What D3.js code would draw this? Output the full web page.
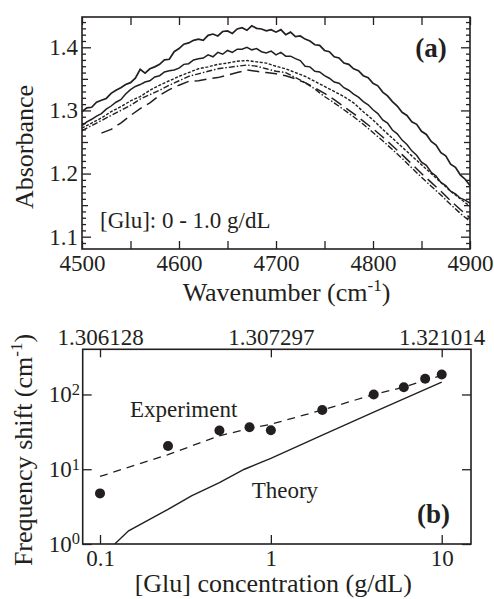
<!DOCTYPE html>
<html>
<head>
<meta charset="utf-8">
<script src="https://cdn.jsdelivr.net/npm/d3@7"></script>
<style>
body { margin: 0; background: #fff; }
svg { display: block; font-family: "Liberation Serif", "Times New Roman", serif; }
.tickLabel text { font-family: "Liberation Serif", "Times New Roman", serif; font-size: 23px; fill: #231f20; }
.axisLabel { font-size: 26px; fill: #231f20; }
.note { font-size: 23px; fill: #231f20; }
.panelTag { font-size: 27px; font-weight: bold; fill: #231f20; }
</style>
</head>
<body>
<svg id="figSVG" width="494" height="599"></svg>
<script>
//////////////////// DATA ////////////////////
// panel (a): absorbance spectra, [Glu] 0 - 1.0 g/dL
const waveFine = d3.range(4500, 4901, 5);     // sampling grid of the two solid spectra
const waveCoarse = d3.range(4500, 4901, 10);  // sampling grid of the broken spectra

const absA = [
    1.298, 1.304, 1.305, 1.313, 1.316, 1.319, 1.327, 1.332, 1.336, 1.341,
    1.344, 1.351, 1.365, 1.359, 1.366, 1.369, 1.373, 1.380, 1.381, 1.393,
    1.398, 1.405, 1.407, 1.411, 1.413, 1.411, 1.419, 1.421, 1.418, 1.425,
    1.426, 1.422, 1.429, 1.431, 1.427, 1.434, 1.430, 1.429, 1.426, 1.428,
    1.424, 1.428, 1.420, 1.424, 1.417, 1.418, 1.413, 1.410, 1.404, 1.403,
    1.395, 1.393, 1.385, 1.383, 1.375, 1.373, 1.366, 1.363, 1.355, 1.352,
    1.343, 1.339, 1.329, 1.323, 1.314, 1.307, 1.297, 1.292, 1.282, 1.278,
    1.267, 1.262, 1.251, 1.245, 1.233, 1.228, 1.215, 1.210, 1.198, 1.191,
    1.181
];
const absB = [
    1.276, 1.282, 1.286, 1.291, 1.295, 1.302, 1.307, 1.313, 1.317, 1.326,
    1.333, 1.338, 1.341, 1.345, 1.347, 1.353, 1.355, 1.361, 1.363, 1.364,
    1.367, 1.373, 1.374, 1.380, 1.382, 1.383, 1.388, 1.385, 1.392, 1.389,
    1.395, 1.392, 1.397, 1.397, 1.400, 1.396, 1.398, 1.393, 1.391, 1.394,
    1.388, 1.392, 1.386, 1.386, 1.382, 1.379, 1.370, 1.369, 1.362, 1.361,
    1.355, 1.351, 1.345, 1.343, 1.336, 1.332, 1.326, 1.321, 1.314, 1.309,
    1.301, 1.295, 1.285, 1.280, 1.269, 1.263, 1.253, 1.246, 1.236, 1.229,
    1.218, 1.213, 1.202, 1.196, 1.186, 1.181, 1.172, 1.168, 1.161, 1.158,
    1.153
];
const absC = [
    1.272, 1.280, 1.288, 1.298, 1.306, 1.315, 1.322, 1.332, 1.340, 1.347,
    1.354, 1.360, 1.366, 1.369, 1.373, 1.375, 1.378, 1.379, 1.377, 1.375,
    1.370, 1.366, 1.360, 1.354, 1.346, 1.338, 1.330, 1.322, 1.312, 1.298,
    1.285, 1.270, 1.256, 1.242, 1.228, 1.214, 1.200, 1.186, 1.172, 1.160,
    1.148
];
const absD = [
    1.268, 1.276, 1.284, 1.292, 1.300, 1.308, 1.318, 1.325, 1.332, 1.340,
    1.347, 1.354, 1.358, 1.362, 1.366, 1.368, 1.370, 1.372, 1.370, 1.366,
    1.362, 1.360, 1.352, 1.344, 1.334, 1.322, 1.312, 1.301, 1.290, 1.278,
    1.265, 1.252, 1.238, 1.224, 1.209, 1.194, 1.180, 1.166, 1.151, 1.137,
    1.124
];
const absE = [
    null,  null,  1.264, 1.270, 1.280, 1.292, 1.303, 1.312, 1.324, 1.333,
    1.340, 1.346, 1.347, 1.350, 1.352, 1.356, 1.360, 1.364, 1.362, 1.360,
    1.358, 1.355, 1.350, 1.344, 1.336, 1.327, 1.317, 1.306, 1.295, 1.283,
    1.271, 1.258, 1.244, 1.230, 1.215, 1.200, 1.186, 1.172, 1.157, 1.143,
    1.130
];

// panel (b): frequency shift vs concentration
const concExp = [0.1, 0.25, 0.5, 0.75, 1, 2, 4, 6, 8, 10];
const shiftExp = [4.75, 20.5, 32.9, 36.4, 33.2, 62, 100, 125, 162, 185];
const concFit = [0.1, 0.25, 0.5, 0.75, 1, 2, 4, 6, 8, 10];
const shiftFit = [8.0, 15.7, 28, 35, 40, 62, 100, 125, 155, 180];
const concTheory = [0.122, 0.147, 0.2, 0.25, 0.343, 0.5, 0.7, 1, 2, 4, 10];
const shiftTheory = [1.0, 1.5, 2.2, 2.9, 4.4, 6.6, 10, 14, 28.5, 58, 146];

// tick labels
const waveLabelTicks = [4500, 4600, 4700, 4800, 4900];
const absLabelTicks = [1.1, 1.2, 1.3, 1.4];
const concTicks = [0.1, 1, 10];
const concTickLabels = ["0.1", "1", "10"];
const indexTickLabels = ["1.306128", "1.307297", "1.321014"];
const shiftTicks = [1, 10, 100];


//////////////////// HANDLE SIZES ////////////////////
const ink = "#231f20";
const figSVG = d3.select("#figSVG");

const spectrumSizes = { left: 82, right: 470, top: 17, bottom: 249 };
const shiftSizes = { left: 82.7, right: 471, top: 349.3, bottom: 544 };


//////////////////// INITIALIZE SCALERS ////////////////////
const scaleWave = d3.scaleLinear()
    .domain([4500, 4900])
    .range([spectrumSizes.left, spectrumSizes.right]);

const scaleAbs = d3.scaleLinear()
    .domain([1.0805, 1.448])
    .range([spectrumSizes.bottom, spectrumSizes.top]);

const scaleConc = d3.scaleLog()
    .domain([0.0792, 14.84])
    .range([shiftSizes.left, shiftSizes.right]);

const scaleShift = d3.scaleLog()
    .domain([1, 402])
    .range([shiftSizes.bottom, shiftSizes.top]);


//////////////////// HELPERS ////////////////////
// strip domain path and default font of a d3 axis group
function cleanAxis(g) {
    g.select(".domain").remove();
    g.attr("font-size", null).attr("font-family", null).attr("color", ink);
    g.selectAll(".tick line").attr("stroke-width", 1.3);
}

function drawFrame(s) {
    figSVG.append("rect")
        .attr("x", s.left)
        .attr("y", s.top)
        .attr("width", s.right - s.left)
        .attr("height", s.bottom - s.top)
        .attr("fill", "none")
        .attr("stroke", ink)
        .attr("stroke-width", 1.6);
}


//////////////////// PANEL (a) ////////////////////
const waveTicks = d3.range(4500, 4901, 50);
const absTicks = d3.range(109, 145).map(d => d / 100);
const absTickLength = d => {
    const k = Math.round(d * 100);
    if (k % 10 === 0) return 9;
    if (k % 5 === 0) return 6;
    return 4;
};

// inward ticks on all four sides
figSVG.append("g")
    .attr("transform", `translate(0, ${spectrumSizes.bottom})`)
    .call(d3.axisTop(scaleWave).tickValues(waveTicks).tickSize(8).tickFormat(""))
    .call(cleanAxis);

figSVG.append("g")
    .attr("transform", `translate(0, ${spectrumSizes.top})`)
    .call(d3.axisBottom(scaleWave).tickValues(waveTicks).tickSize(8).tickFormat(""))
    .call(cleanAxis);

figSVG.append("g")
    .attr("transform", `translate(${spectrumSizes.left}, 0)`)
    .call(d3.axisRight(scaleAbs).tickValues(absTicks).tickFormat(""))
    .call(cleanAxis)
    .selectAll(".tick line").attr("x2", d => absTickLength(d));

figSVG.append("g")
    .attr("transform", `translate(${spectrumSizes.right}, 0)`)
    .call(d3.axisLeft(scaleAbs).tickValues(absTicks).tickFormat(""))
    .call(cleanAxis)
    .selectAll(".tick line").attr("x2", d => -absTickLength(d));

// tick labels
figSVG.append("g")
    .attr("class", "tickLabel")
    .attr("transform", `translate(0, ${spectrumSizes.bottom})`)
    .call(d3.axisBottom(scaleWave).tickValues(waveLabelTicks).tickSize(0).tickFormat(d3.format("d")))
    .call(cleanAxis)
    .selectAll("text").attr("y", 22).attr("dy", null);

figSVG.append("g")
    .attr("class", "tickLabel")
    .attr("transform", `translate(${spectrumSizes.left}, 0)`)
    .call(d3.axisLeft(scaleAbs).tickValues(absLabelTicks).tickSize(0).tickPadding(4).tickFormat(d3.format(".1f")))
    .call(cleanAxis);

// spectra
const spectra = [
    { wave: waveFine, abs: absA, dash: null, width: 1.7 },
    { wave: waveFine, abs: absB, dash: null, width: 1.5 },
    { wave: waveCoarse, abs: absC, dash: "3,1.6", width: 1.4 },
    { wave: waveCoarse, abs: absD, dash: "6,2,1.5,2", width: 1.4 },
    { wave: waveCoarse, abs: absE, dash: "12,6", width: 1.5 }
];

const spectrumLine = d3.line()
    .defined(d => d[1] !== null)
    .x(d => scaleWave(d[0]))
    .y(d => scaleAbs(d[1]));

figSVG.append("g")
    .selectAll("path")
    .data(spectra)
    .enter()
    .append("path")
    .attr("d", s => spectrumLine(s.wave.map((w, i) => [w, s.abs[i]])))
    .attr("fill", "none")
    .attr("stroke", ink)
    .attr("stroke-width", s => s.width)
    .attr("stroke-dasharray", s => s.dash);

drawFrame(spectrumSizes);

// texts
figSVG.append("text")
    .attr("class", "panelTag")
    .attr("x", 446.7)
    .attr("y", 57)
    .attr("text-anchor", "end")
    .text("(a)");

figSVG.append("text")
    .attr("class", "note")
    .attr("x", 100)
    .attr("y", 228.3)
    .text("[Glu]: 0 - 1.0 g/dL");

figSVG.append("text")
    .attr("class", "axisLabel")
    .attr("transform", "rotate(-90, 33, 147)")
    .attr("x", 33)
    .attr("y", 147)
    .attr("text-anchor", "middle")
    .text("Absorbance");

const xLabelSpectrum = figSVG.append("text")
    .attr("class", "axisLabel")
    .attr("x", 286.5)
    .attr("y", 300.5)
    .attr("text-anchor", "middle");
xLabelSpectrum.append("tspan").text("Wavenumber (cm");
xLabelSpectrum.append("tspan").attr("font-size", 17).attr("dy", -10).text("-1");
xLabelSpectrum.append("tspan").attr("dy", 10).text(")");


//////////////////// PANEL (b) ////////////////////
// inward ticks
figSVG.append("g")
    .attr("transform", `translate(0, ${shiftSizes.bottom})`)
    .call(d3.axisTop(scaleConc).tickValues(concTicks).tickSize(9).tickFormat(""))
    .call(cleanAxis);

figSVG.append("g")
    .attr("transform", `translate(0, ${shiftSizes.top})`)
    .call(d3.axisBottom(scaleConc).tickValues(concTicks).tickSize(8).tickFormat(""))
    .call(cleanAxis);

figSVG.append("g")
    .attr("transform", `translate(${shiftSizes.left}, 0)`)
    .call(d3.axisRight(scaleShift).tickValues(shiftTicks).tickSize(9).tickFormat(""))
    .call(cleanAxis);

figSVG.append("g")
    .attr("transform", `translate(${shiftSizes.right}, 0)`)
    .call(d3.axisLeft(scaleShift).tickValues(shiftTicks).tickSize(9).tickFormat(""))
    .call(cleanAxis);

// tick labels
figSVG.append("g")
    .attr("class", "tickLabel")
    .attr("transform", `translate(0, ${shiftSizes.bottom})`)
    .call(d3.axisBottom(scaleConc).tickValues(concTicks).tickSize(0)
        .tickFormat((d, i) => concTickLabels[i]))
    .call(cleanAxis)
    .selectAll("text").attr("y", 21.5).attr("dy", null);

figSVG.append("g")
    .attr("class", "tickLabel")
    .attr("transform", `translate(0, ${shiftSizes.top})`)
    .call(d3.axisTop(scaleConc).tickValues(concTicks).tickSize(0)
        .tickFormat((d, i) => indexTickLabels[i]))
    .call(cleanAxis)
    .selectAll("text").attr("y", -4.3).attr("dy", null);

const yLabelsShift = figSVG.append("g")
    .attr("class", "tickLabel")
    .attr("transform", `translate(${shiftSizes.left}, 0)`)
    .call(d3.axisLeft(scaleShift).tickValues(shiftTicks).tickSize(0).tickPadding(2.7).tickFormat(""))
    .call(cleanAxis);

yLabelsShift.selectAll(".tick text").each(function(d) {
    const t = d3.select(this);
    t.append("tspan").text("10");
    t.append("tspan").attr("font-size", 16.5).attr("dy", -7.4).text(Math.round(Math.log10(d)));
});

// theory curve
const shiftLine = d3.line()
    .x(d => scaleConc(d[0]))
    .y(d => scaleShift(d[1]));

figSVG.append("path")
    .attr("d", shiftLine(concTheory.map((c, i) => [c, shiftTheory[i]])))
    .attr("fill", "none")
    .attr("stroke", ink)
    .attr("stroke-width", 1.4);

// experiment trend (dashed)
figSVG.append("path")
    .attr("d", shiftLine(concFit.map((c, i) => [c, shiftFit[i]])))
    .attr("fill", "none")
    .attr("stroke", ink)
    .attr("stroke-width", 1.3)
    .attr("stroke-dasharray", "8,6");

// experiment points
figSVG.append("g")
    .selectAll("circle")
    .data(concExp.map((c, i) => [c, shiftExp[i]]))
    .enter()
    .append("circle")
    .attr("cx", d => scaleConc(d[0]))
    .attr("cy", d => scaleShift(d[1]))
    .attr("r", 5)
    .attr("fill", ink);

drawFrame(shiftSizes);

// texts
figSVG.append("text")
    .attr("class", "note")
    .attr("x", 130)
    .attr("y", 416.7)
    .text("Experiment");

figSVG.append("text")
    .attr("class", "note")
    .attr("x", 251.7)
    .attr("y", 498.3)
    .text("Theory");

figSVG.append("text")
    .attr("class", "panelTag")
    .attr("x", 450)
    .attr("y", 523)
    .attr("text-anchor", "end")
    .text("(b)");

const yLabelShift = figSVG.append("text")
    .attr("class", "axisLabel")
    .attr("transform", "rotate(-90, 32, 450)")
    .attr("x", 32)
    .attr("y", 450)
    .attr("text-anchor", "middle");
yLabelShift.append("tspan").text("Frequency shift (cm");
yLabelShift.append("tspan").attr("font-size", 17).attr("dy", -10).text("-1");
yLabelShift.append("tspan").attr("dy", 10).text(")");

figSVG.append("text")
    .attr("class", "axisLabel")
    .attr("x", 273.3)
    .attr("y", 591.5)
    .attr("text-anchor", "middle")
    .text("[Glu] concentration (g/dL)");
</script>
</body>
</html>
